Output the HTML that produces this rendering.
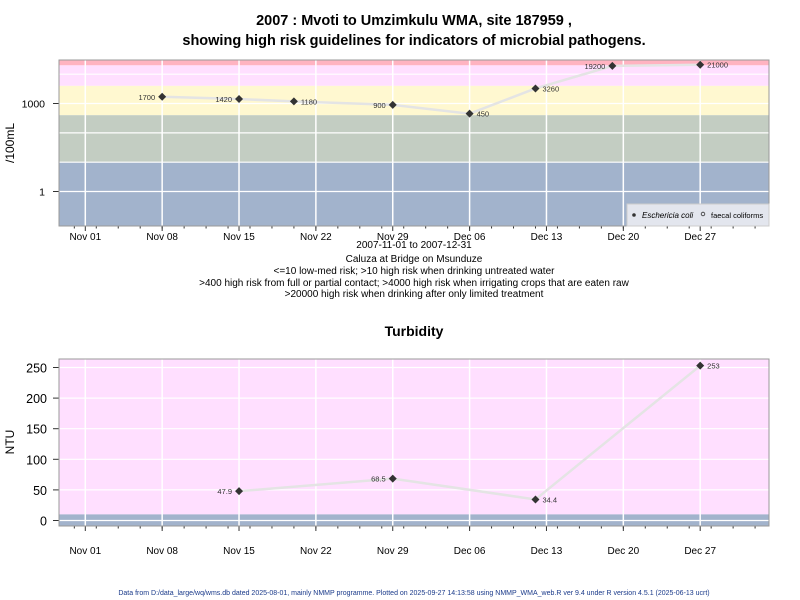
<!DOCTYPE html>
<html><head><meta charset="utf-8"><style>
body{margin:0;background:#fff;}
svg{display:block;font-family:"Liberation Sans",Arial,sans-serif;}
</style></head><body>
<svg id="c" width="800" height="600" viewBox="0 0 800 600">
<text x="414" y="25" text-anchor="middle" font-size="14.5" font-weight="bold">2007 : Mvoti to Umzimkulu WMA, site 187959 ,</text>
<text x="414" y="45" text-anchor="middle" font-size="14.5" font-weight="bold">showing high risk guidelines for indicators of microbial pathogens.</text>
<text x="414" y="248" text-anchor="middle" font-size="10">2007-11-01 to 2007-12-31</text>
<text x="414" y="262" text-anchor="middle" font-size="10">Caluza at Bridge on Msunduze</text>
<text x="414" y="274" text-anchor="middle" font-size="10">&lt;=10 low-med risk; &gt;10 high risk when drinking untreated water</text>
<text x="414" y="286" text-anchor="middle" font-size="10">&gt;400 high risk from full or partial contact; &gt;4000 high risk when irrigating crops that are eaten raw</text>
<text x="414" y="297" text-anchor="middle" font-size="10">&gt;20000 high risk when drinking after only limited treatment</text>
<text x="414" y="336" text-anchor="middle" font-size="14" font-weight="bold">Turbidity</text>
<text x="414" y="595" text-anchor="middle" font-size="7" fill="#1a3a8a">Data from D:/data_large/wq/wms.db dated 2025-08-01, mainly NMMP programme. Plotted on 2025-09-27 14:13:58 using NMMP_WMA_web.R ver 9.4 under R version 4.5.1 (2025-06-13 ucrt)</text>
<g id="topchart"></g><g id="botchart"></g>
</svg>
<script>
// Top chart data (E. coli, counts/100mL), days since Nov 01 2007
const ecoliDays = [7, 14, 19, 28, 35, 41, 48, 56];
const ecoliValues = [1700, 1420, 1180, 900, 450, 3260, 19200, 21000];
const ecoliLabels = ["1700", "1420", "1180", "900", "450", "3260", "19200", "21000"];
// Turbidity data (NTU)
const turbDays = [14, 28, 41, 56];
const turbValues = [47.9, 68.5, 34.4, 253];
const turbLabels = ["47.9", "68.5", "34.4", "253"];
const xTickLabels = ["Nov 01","Nov 08","Nov 15","Nov 22","Nov 29","Dec 06","Dec 13","Dec 20","Dec 27"];
const turbTicks = [0, 50, 100, 150, 200, 250];
const logTicks = [1, 1000];

const NS="http://www.w3.org/2000/svg";
function el(p,t,a){const e=document.createElementNS(NS,t);for(const k in a)e.setAttribute(k,a[k]);p.appendChild(e);return e;}
const L=59,R=769;
const xs=d=>85.3+d*10.98;
const labelRight=[false,false,true,false,true,true,false,true];

// ---------- top ----------
const topG=document.getElementById('topchart');
const T0=60,T1=226;
const ly=v=>191.5-Math.log10(v)*29.33;
function band(g,y0,y1,c,name){const r=el(g,'rect',{x:L,y:y0,width:R-L,height:y1-y0,fill:c});

}
band(topG,T0,ly(20000),'#ffb3c1','band-very-high');
band(topG,ly(20000),ly(4000),'#ffdfff','band-irrigation');
band(topG,ly(4000),ly(400),'#fff8d0','band-contact');
band(topG,ly(400),ly(10),'#c3cdc2','band-drinking');
band(topG,ly(10),T1,'#a2b3cc','band-low');
[1,10,100,1000,10000].forEach(v=>{const l=el(topG,'line',{x1:L,x2:R,y1:ly(v),y2:ly(v),stroke:'#fff','stroke-width':1.2});

});
xTickLabels.forEach((t,i)=>{const x=xs(i*7);const l=el(topG,'line',{x1:x,x2:x,y1:T0,y2:T1,stroke:'#fff','stroke-width':1.5});

});
function xaxis(g,yb0,ly0){
 for(let d=-1;d<=61;d+=2){const x=xs(d);el(g,'line',{x1:x,x2:x,y1:yb0,y2:yb0+2.5,stroke:'#333','stroke-width':1});}
 xTickLabels.forEach((t,i)=>{const x=xs(i*7);el(g,'line',{x1:x,x2:x,y1:yb0,y2:yb0+5,stroke:'#333','stroke-width':1});
  const tx=el(g,'text',{x:x,y:ly0,'text-anchor':'middle','font-size':10});tx.textContent=t;
  
  });
}
xaxis(topG,T1,240);
logTicks.forEach(v=>{const y=ly(v);el(topG,'line',{x1:L-6,x2:L,y1:y,y2:y,stroke:'#333'});
 const t=el(topG,'text',{x:L-14,y:y+4,'text-anchor':'end','font-size':10.5});t.textContent=v;
 
 });
const yt=el(topG,'text',{x:14,y:143,'text-anchor':'middle','font-size':12,transform:'rotate(-90 14 143)'});yt.textContent='/100mL';


const p1=el(topG,'polyline',{points:ecoliDays.map((d,i)=>xs(d)+','+ly(ecoliValues[i])).join(' '),fill:'none',stroke:'#e4e4e4','stroke-width':2.5});


function marker(g,x,y,name){const m=el(g,'path',{d:`M${x} ${y-4}L${x+4} ${y}L${x} ${y+4}L${x-4} ${y}Z`,fill:'#333'});
 
 }
ecoliDays.forEach((d,i)=>{const x=xs(d),y=ly(ecoliValues[i]);marker(topG,x,y,'ecoli-point');
 const r=labelRight[i];const t=el(topG,'text',{x:r?x+7:x-7,y:y+3,'text-anchor':r?'start':'end','font-size':7.5,fill:'#333'});t.textContent=ecoliLabels[i];
 
 });
el(topG,'rect',{x:L,y:T0,width:R-L,height:T1-T0,fill:'none',stroke:'#999'});
const lg=el(topG,'g',{});


el(lg,'rect',{x:627,y:204,width:142,height:22,fill:'#e3e6ee',stroke:'#ccc'});
el(lg,'circle',{cx:634,cy:215,r:1.8,fill:'#333'});
const le1=el(lg,'text',{x:642,y:218,'font-size':8,'font-style':'italic'});le1.textContent='Eschericia coli';


el(lg,'circle',{cx:703,cy:214,r:1.8,fill:'none',stroke:'#333','stroke-width':0.8});
const le2=el(lg,'text',{x:711,y:218,'font-size':7.5});le2.textContent='faecal coliforms';



// ---------- bottom ----------
const botG=document.getElementById('botchart');
const B0=359,B1=526;
const yb=v=>520.5-v*0.612;
band(botG,B0,yb(10),'#ffdfff','turbidity-band-high');
band(botG,yb(10),B1,'#a2b3cc','turbidity-band-low');
turbTicks.forEach(v=>{const y=yb(v);const l=el(botG,'line',{x1:L,x2:R,y1:y,y2:y,stroke:'#fff','stroke-width':1.2});
 
 
 el(botG,'line',{x1:L-6,x2:L,y1:y,y2:y,stroke:'#333'});
 const t=el(botG,'text',{x:L-12,y:y+5,'text-anchor':'end','font-size':12.5});t.textContent=v;
 
 });
xTickLabels.forEach((t,i)=>{const x=xs(i*7);const l=el(botG,'line',{x1:x,x2:x,y1:B0,y2:B1,stroke:'#fff','stroke-width':1.5});
 
 });
xaxis(botG,B1,554);
const yt2=el(botG,'text',{x:14,y:442,'text-anchor':'middle','font-size':12,transform:'rotate(-90 14 442)'});yt2.textContent='NTU';


const p2=el(botG,'polyline',{points:turbDays.map((d,i)=>xs(d)+','+yb(turbValues[i])).join(' '),fill:'none',stroke:'#e4e4e4','stroke-width':2.5});


const tRight=[false,false,true,true];
turbDays.forEach((d,i)=>{const x=xs(d),y=yb(turbValues[i]);marker(botG,x,y,'turbidity-point');
 const r=tRight[i];const t=el(botG,'text',{x:r?x+7:x-7,y:y+3,'text-anchor':r?'start':'end','font-size':7.5,fill:'#333'});t.textContent=turbLabels[i];
 
 });
el(botG,'rect',{x:L,y:B0,width:R-L,height:B1-B0,fill:'none',stroke:'#999'});
</script>
</body></html>
